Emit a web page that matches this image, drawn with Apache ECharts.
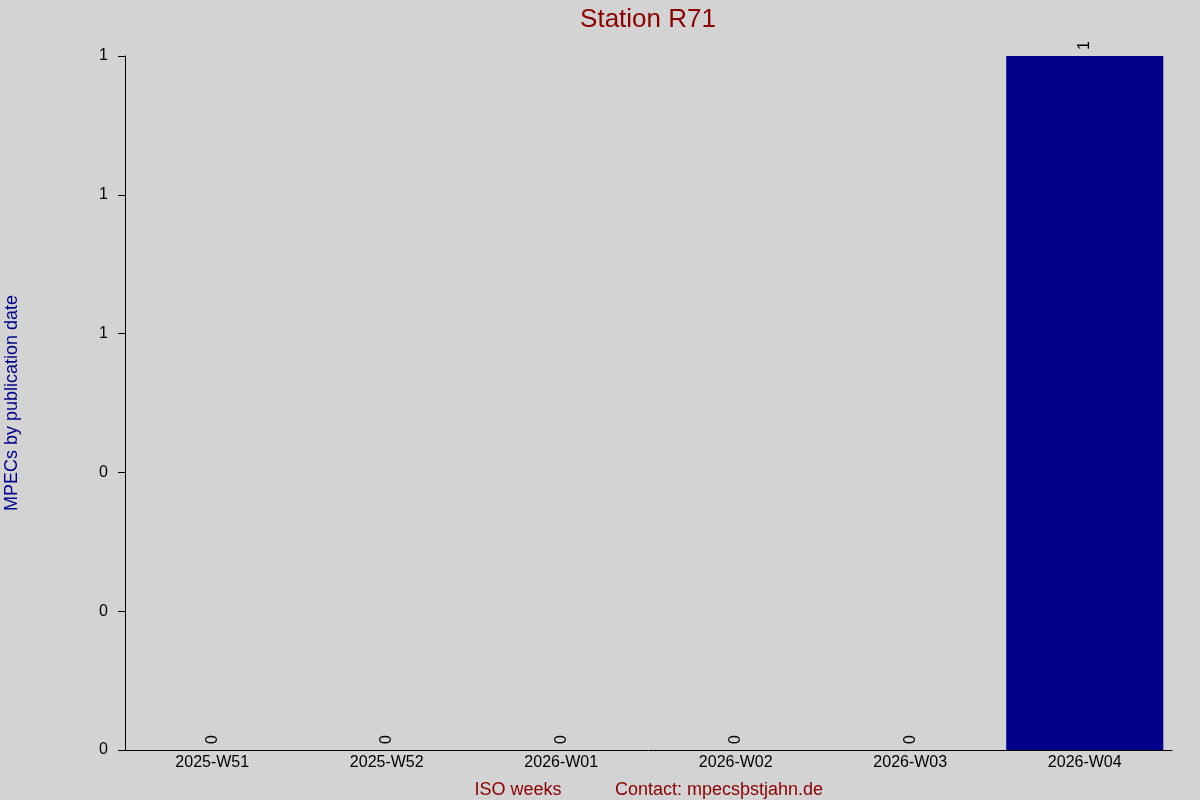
<!DOCTYPE html>
<html>
<head>
<meta charset="utf-8">
<script src="https://cdn.jsdelivr.net/npm/echarts@6/dist/echarts.min.js"></script>
<style>
  html, body { margin: 0; padding: 0; background: #d3d3d3; }
  #main { width: 1200px; height: 800px; }
</style>
</head>
<body>
<div id="main"></div>
<script>
// 資料
var weeks = ['2025-W51', '2025-W52', '2026-W01', '2026-W02', '2026-W03', '2026-W04'];
var mpecCounts = [0, 0, 0, 0, 0, 1];

var chart = echarts.init(document.getElementById('main'));

var option = {
    backgroundColor: '#d3d3d3',
    animation: false,
    textStyle: { fontFamily: 'Liberation Sans, Arial, sans-serif' },
    title: [{
        text: 'Station R71',
        left: 643,
        top: 2,
        textAlign: 'center',
        textStyle: { color: '#8b0000', fontSize: 26, fontWeight: 'normal' }
    }, {
        text: 'ISO weeks',
        left: 513,
        top: 776,
        textAlign: 'center',
        textStyle: { color: '#8b0000', fontSize: 18, fontWeight: 'normal' }
    }, {
        text: 'Contact: mpecs\u00festjahn.de',
        left: 714,
        top: 776,
        textAlign: 'center',
        textStyle: { color: '#8b0000', fontSize: 18, fontWeight: 'normal' }
    }],
    grid: { left: 125, right: 28, top: 56, bottom: 50, outerBoundsMode: 'none', containLabel: false },
    xAxis: {
        type: 'category',
        data: weeks,
        axisLine: { lineStyle: { color: '#000', width: 1 } },
        axisTick: { show: false },
        axisLabel: { color: '#000', fontSize: 16, margin: 5 }
    },
    yAxis: {
        type: 'value',
        min: 0,
        max: 1,
        interval: 0.2,
        name: 'MPECs by publication date',
        nameLocation: 'middle',
        nameGap: 104,
        nameTextStyle: { color: '#00008b', fontSize: 18 },
        axisLine: { show: true, lineStyle: { color: '#000', width: 1 } },
        axisTick: { show: true, length: 7, lineStyle: { color: '#000' } },
        splitLine: { show: false },
        axisLabel: {
            color: '#000',
            fontSize: 16,
            margin: 17,
            formatter: function (v) { return Math.round(v); }
        }
    },
    series: [{
        type: 'bar',
        data: mpecCounts,
        barWidth: '90%',
        itemStyle: { color: '#00008b' },
        label: {
            show: true,
            position: 'top',
            rotate: 90,
            align: 'left',
            verticalAlign: 'middle',
            distance: 6,
            color: '#000',
            fontSize: 16
        }
    }]
};

chart.setOption(option);
</script>
</body>
</html>
